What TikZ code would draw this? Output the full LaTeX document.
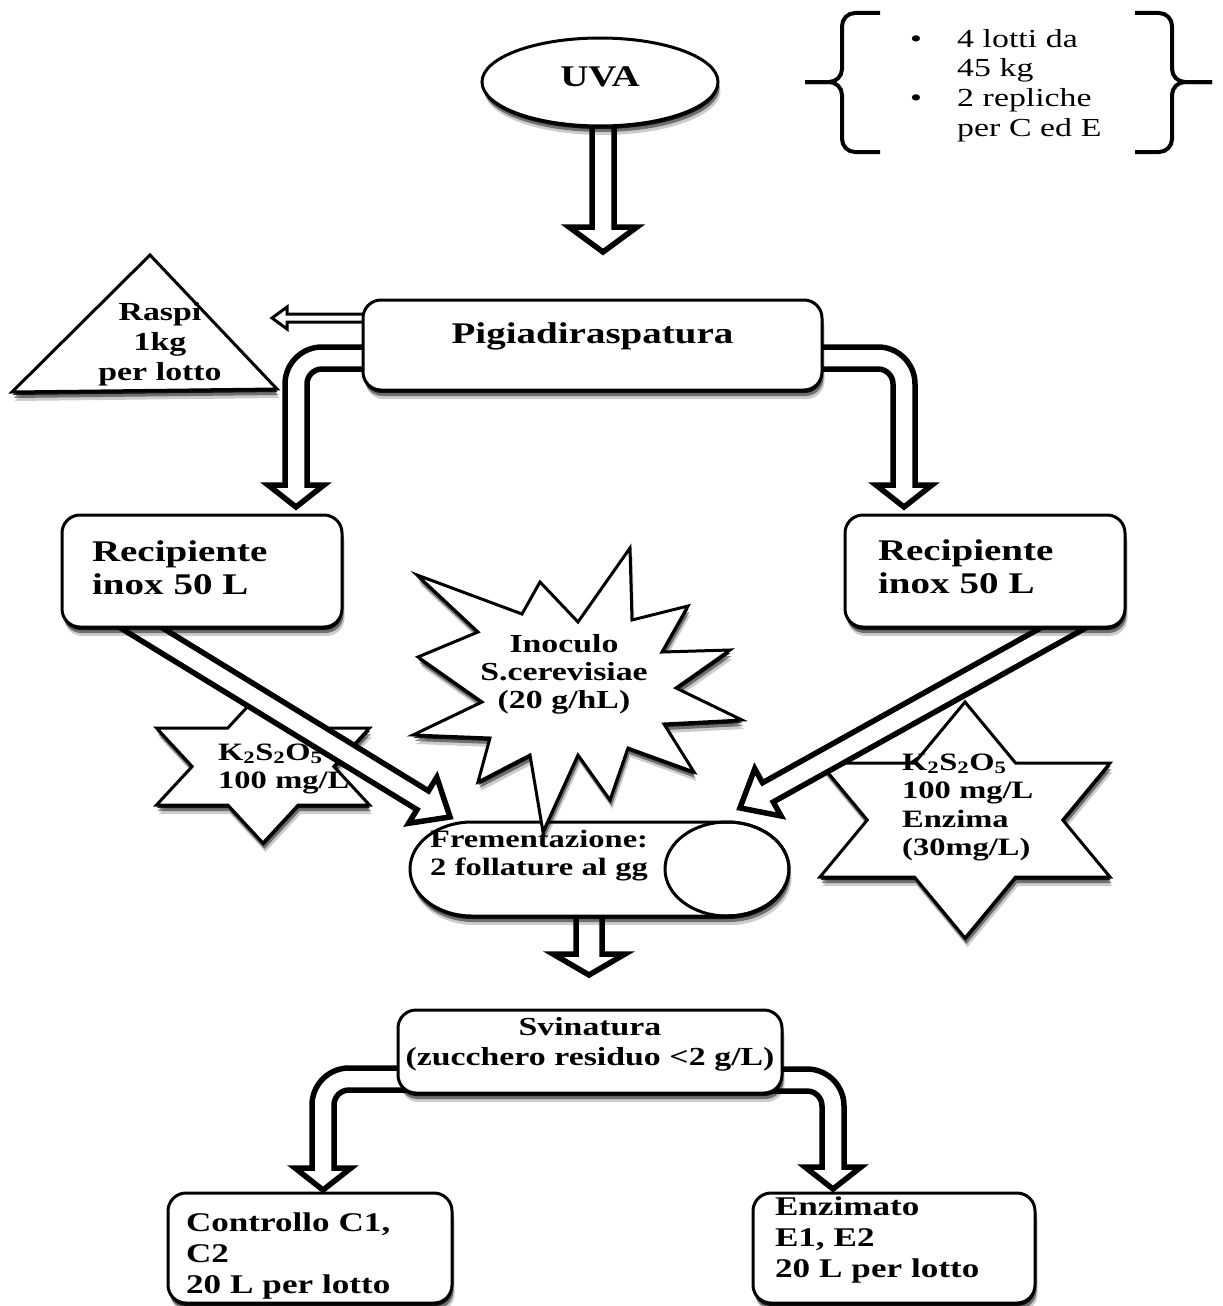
\documentclass[tikz,border=0pt]{standalone}
\usepackage{fontspec}
\setmainfont{Liberation Serif}[FakeStretch=1.3]
\usetikzlibrary{shadows,shapes.geometric}
\tikzset{
  sshadow/.style={drop shadow={shadow xshift=0.5pt,shadow yshift=-3pt,opacity=.85,fill=black},
                  drop shadow={shadow xshift=1.5pt,shadow yshift=-6pt,opacity=.45,fill=black},
                  drop shadow={shadow xshift=2.5pt,shadow yshift=-9pt,opacity=.2,fill=black}},
  shp/.style={draw=black,line width=3pt,fill=white,sshadow},
  box/.style={shp,rectangle,rounded corners=18pt,inner ysep=0pt},
  blk/.style={draw=black,line width=5.5pt,fill=white,line join=miter},
  thinblk/.style={draw=black,line width=3pt,fill=white,line join=miter},
  bracestyle/.style={draw=black,line width=4pt,rounded corners=13pt},
  bigf/.style={font=\fontsize{30}{33}\selectfont\bfseries},
  midf/.style={font=\fontsize{26}{30}\selectfont\bfseries},
  botf/.style={font=\fontsize{27}{31}\selectfont\bfseries},
  smlf/.style={font=\fontsize{25}{28}\selectfont\bfseries},
  lbl/.style={inner sep=0pt},
}
% vertical block arrow: xc, ytop, ytip, half shaft, half head, head length
\newcommand\downblock[6]{%
  \draw[blk] ({#1-#4},#2) -- ({#1-#4},{#3-#6}) -- ({#1-#5},{#3-#6}) -- (#1,#3)
    -- ({#1+#5},{#3-#6}) -- ({#1+#4},{#3-#6}) -- ({#1+#4},#2) -- cycle;}
% straight block arrow: [style] x0, y0, canvas angle, length, half shaft, half head, head length
\newcommand\straightblock[8][blk]{%
  \begin{scope}[shift={(#2,#3)},rotate=#4]
    \draw[#1] (0,-#6) -- ({#5-#8},-#6) -- ({#5-#8},-#7) -- (#5,0) -- ({#5-#8},#7)
      -- ({#5-#8},#6) -- (0,#6) -- cycle;
  \end{scope}}
% elbow block arrow: x0, yc, xc, ytip, dir (-1 left, 1 right)
\newcommand\elbowarrow[5]{%
  \pgfmathsetmacro\zzS{11}\pgfmathsetmacro\zzR{26}\pgfmathsetmacro\zzW{28}\pgfmathsetmacro\zzL{22}%
  \pgfmathsetmacro\zzCx{#3-(#5)*\zzR}%
  \pgfmathsetmacro\zzCy{#2+\zzR}%
  \pgfmathsetmacro\zzTop{#2-\zzS}%
  \pgfmathsetmacro\zzBot{#2+\zzS}%
  \pgfmathsetmacro\zzOx{#3+(#5)*\zzS}%
  \pgfmathsetmacro\zzIx{#3-(#5)*\zzS}%
  \pgfmathsetmacro\zzHy{#4-\zzL}%
  \pgfmathsetmacro\zzHo{#3+(#5)*\zzW}%
  \pgfmathsetmacro\zzHi{#3-(#5)*\zzW}%
  \pgfmathsetmacro\zzAng{270+(#5)*90}%
  \pgfmathsetmacro\zzRo{\zzR+\zzS}%
  \pgfmathsetmacro\zzRi{\zzR-\zzS}%
  \draw[blk] (#1,\zzTop) -- (\zzCx,\zzTop) arc[start angle=270,end angle=\zzAng,radius=\zzRo]
    -- (\zzOx,\zzHy) -- (\zzHo,\zzHy) -- (#3,#4) -- (\zzHi,\zzHy) -- (\zzIx,\zzHy)
    -- (\zzIx,\zzCy) arc[start angle=\zzAng,end angle=270,radius=\zzRi] -- (#1,\zzBot) -- cycle;}
% hexagram: cx, cy, half width, half height, band offset
\newcommand\hexagram[5]{%
  \pgfmathsetmacro\zzA{#3/(#4+#5)*(#4-#5)}%
  \pgfmathsetmacro\zzB{#3/(#4+#5)*#4}%
  \draw[shp,line join=miter] (#1,{#2-#4}) -- ({#1+\zzA},{#2-#5}) -- ({#1+#3},{#2-#5}) -- ({#1+\zzB},#2)
    -- ({#1+#3},{#2+#5}) -- ({#1+\zzA},{#2+#5}) -- (#1,{#2+#4}) -- ({#1-\zzA},{#2+#5})
    -- ({#1-#3},{#2+#5}) -- ({#1-\zzB},#2) -- ({#1-#3},{#2-#5}) -- ({#1-\zzA},{#2-#5}) -- cycle;}

\begin{document}
\begin{tikzpicture}[x=1pt,y=-1pt]
\useasboundingbox[fill=white] (0,0) rectangle (1223,1306);

% bracket with notes
\draw[bracestyle] (880,13) -- (842,13) -- (842,82) -- (805,82);
\draw[bracestyle] (880,152) -- (842,152) -- (842,82) -- (805,82);
\draw[bracestyle] (1135,13) -- (1172,13) -- (1172,82) -- (1212,82);
\draw[bracestyle] (1135,152) -- (1172,152) -- (1172,82) -- (1212,82);
\node[lbl,anchor=north west,align=left,text width=220pt,text height=19pt,
      font=\fontsize{26}{29.7}\selectfont] (info) at (910,28)
  {\makebox[47pt][l]{•}4 lotti da\\\hspace*{47pt}45 kg\\\makebox[47pt][l]{•}2 repliche\\\hspace*{47pt}per C ed E};

% UVA
\downblock{603}{100}{252}{11}{34}{25}
\node[shp,ellipse,minimum width=236pt,minimum height=88pt,inner sep=0pt,bigf,
      text height=19pt,text depth=11pt] (uva) at (600,82) {UVA};

% Raspi
\straightblock[thinblk]{380}{318}{180}{108}{4}{11}{15}
\draw[shp,line join=miter] (150,255) -- (277,389) -- (12,392) -- cycle;
\node[lbl,anchor=north,align=center,text width=150pt,text height=20pt,midf] (raspi) at (160,300)
  {Raspi\\1kg\\per lotto};

% Pigiadiraspatura
\elbowarrow{380}{358}{296}{507}{-1}
\elbowarrow{805}{358}{904}{507}{1}
\node[box,bigf,minimum width=459pt,minimum height=90pt,text height=20pt,text depth=24pt] (pig)
  at (592.5,345) {Pigiadiraspatura};

% Fermentazione
\downblock{589}{900}{975}{13}{36}{21}
\path[shp] (727,822) -- (472,822) arc[start angle=270,end angle=90,x radius=62,y radius=47]
  -- (727,916) arc[start angle=90,end angle=-90,x radius=62,y radius=47] -- cycle;
\draw[line width=3pt] (727,869) ellipse[x radius=62,y radius=47];
\coordinate (ferm) at (600,869);
\node[lbl,anchor=north west,align=left,text width=250pt,text height=19pt,smlf] (fermtext) at (430,828)
  {Frementazione:\\2 follature al gg};

% Inoculo starburst
\draw[shp,line join=miter] (417,575) -- (522,614) -- (540,582) -- (578,622) -- (630,548) -- (632,620)
  -- (688,606) -- (662,652) -- (730,650) -- (676,688) -- (742,720) -- (664,724) -- (694,772)
  -- (628,748) -- (610,800) -- (578,755) -- (543,832) -- (530,755) -- (478,782) -- (490,738)
  -- (413,735) -- (482,702) -- (418,657) -- (478,632) -- cycle;
\node[lbl,anchor=north,align=center,text width=220pt,text height=20pt,
      font=\fontsize{26}{28}\selectfont\bfseries] (inoc) at (564,632)
  {Inoculo\\S.cerevisiae\\(20 g/hL)};

% additive stars
\hexagram{263}{766.5}{106.5}{76.5}{38.5}
\node[lbl,anchor=north west,align=left,text width=170pt,text height=19pt,smlf] (kleft) at (218,741)
  {K\textsubscript{2}S\textsubscript{2}O\textsubscript{5}\\100 mg/L};
\hexagram{965}{820}{145}{118}{57}
\node[lbl,anchor=north west,align=left,text width=200pt,text height=19pt,
      font=\fontsize{25}{28.5}\selectfont\bfseries] (kright) at (902,751)
  {K\textsubscript{2}S\textsubscript{2}O\textsubscript{5}\\100 mg/L\\Enzima\\(30mg/L)};

% diagonal arrows
\straightblock{105.9}{606.1}{-31.5}{403.6}{11}{27}{32}
\straightblock{1099.9}{607.5}{-150.89}{412}{11}{27}{32}

% Recipienti
\node[box,bigf,minimum width=280pt,minimum height=112pt,inner xsep=30pt,text width=220pt,
      align=left,text height=21pt,text depth=41pt] (recl) at (202,571) {Recipiente\\inox 50 L};
\node[box,bigf,minimum width=280pt,minimum height=112pt,inner xsep=33pt,text width=214pt,
      align=left,text height=21pt,text depth=43pt] (recr) at (985,571) {Recipiente\\inox 50 L};

% Svinatura
\elbowarrow{410}{1079}{323}{1190}{-1}
\elbowarrow{770}{1080}{833}{1189}{1}
\node[box,midf,minimum width=384pt,minimum height=83pt,inner xsep=0pt,text width=384pt,
      align=center,text height=20pt,text depth=53pt] (svin) at (590,1051.5)
  {Svinatura\\(zucchero residuo <2 g/L)};

% final boxes
\node[box,botf,minimum width=284pt,minimum height=110pt,inner xsep=18pt,text width=248pt,
      align=left,text height=20pt,text depth=54pt] (ctrl) at (310,1248)
  {Controllo C1,\\C2\\20 L per lotto};
\node[box,botf,minimum width=282pt,minimum height=110pt,inner xsep=22pt,text width=238pt,
      align=left,text height=20pt,text depth=86pt] (enz) at (894,1248)
  {Enzimato\\E1, E2\\20 L per lotto};
\end{tikzpicture}
\end{document}
